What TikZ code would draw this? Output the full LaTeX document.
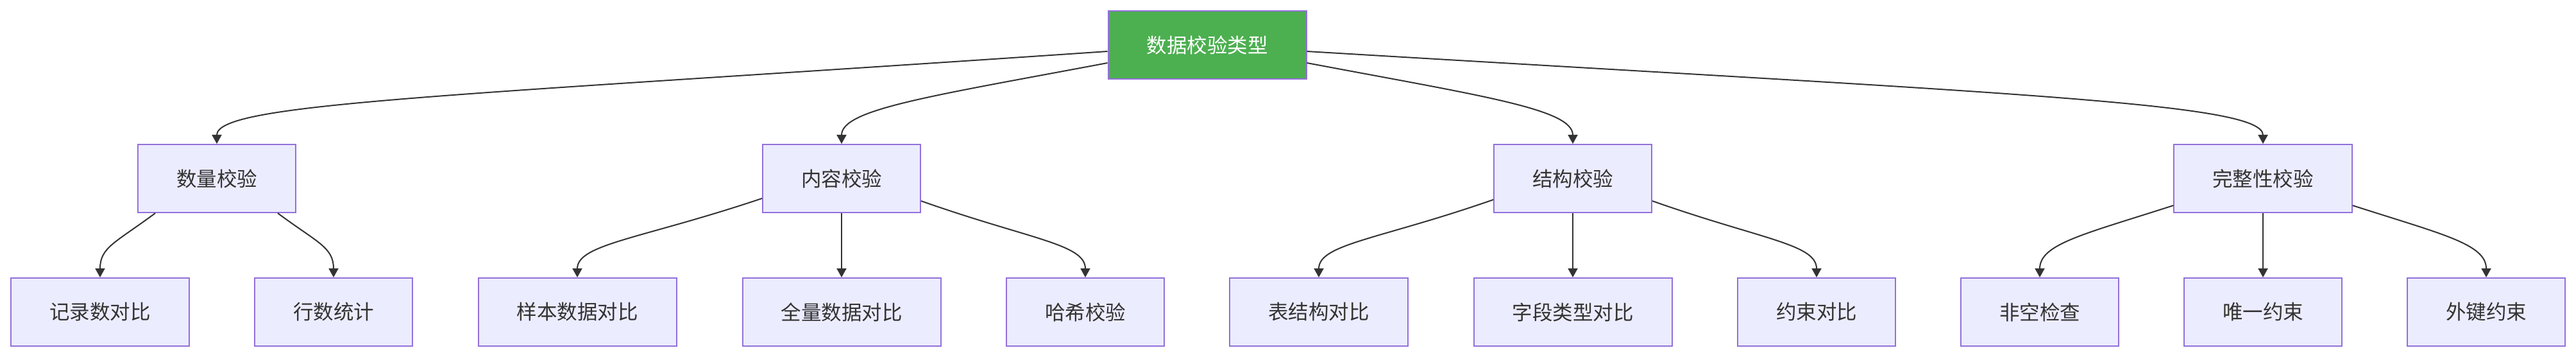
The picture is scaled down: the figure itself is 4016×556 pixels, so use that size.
\documentclass[tikz,border=0pt]{standalone}
\usepackage{fontspec}
\usepackage{tikz}
\usetikzlibrary{arrows.meta,positioning}
\newfontfamily\cjk{Noto Sans CJK SC}
\definecolor{ink}    {HTML}{333333}
\definecolor{lilac}  {HTML}{9370DB}
\definecolor{boxfill}{HTML}{ECECFF}
\definecolor{grass}  {HTML}{4CAF50}
\tikzset{
  % --- nodes
  box/.style     = {draw=lilac, fill=boxfill, line width=2pt, text=ink,
                    inner xsep=60pt, inner ysep=0pt, minimum height=106pt,
                    font=\cjk\fontsize{31.5}{38}\selectfont},
  rootbox/.style = {box, fill=grass, text=white},
  % --- edges
  e/.style       = {-{Triangle[length=14pt,width=15pt]}, line width=2pt, draw=ink},
}

\begin{document}
\begin{tikzpicture}[x=1pt,y=-1pt]
  \useasboundingbox (0,0) rectangle (4016,556);
  % root
  \node[rootbox] (root) at (1882,70) {数据校验类型};
  % level 1
  \node[box] (qty)  at (338,278)  {数量校验};
  \node[box] (cont) at (1312,278) {内容校验};
  \node[box] (strc) at (2452,278) {结构校验};
  \node[box] (intg) at (3528,278) {完整性校验};
  % level 2
  \node[box] (rec)   at (156,486)  {记录数对比};
  \node[box] (rows)  at (520,486)  {行数统计};
  \node[box] (samp)  at (900,486)  {样本数据对比};
  \node[box] (full)  at (1312,486) {全量数据对比};
  \node[box] (hash)  at (1692,486) {哈希校验};
  \node[box] (tbl)   at (2056,486) {表结构对比};
  \node[box] (ftype) at (2452,486) {字段类型对比};
  \node[box] (cons)  at (2832,486) {约束对比};
  \node[box] (notnull) at (3180,486) {非空检查};
  \node[box] (uniq)  at (3528,486) {唯一约束};
  \node[box] (fkey)  at (3876,486) {外键约束};
  % root -> level 1
  \draw[e] ([yshift=-10pt]root.west) .. controls +(-1026,70) and +(0,-64) .. (qty.north);
  \draw[e] ([yshift=-28pt]root.west) .. controls +(-276,52) and +(0,-54) .. (cont.north);
  \draw[e] ([yshift=-28pt]root.east) .. controls +(276,52) and +(0,-54) .. (strc.north);
  \draw[e] ([yshift=-10pt]root.east) .. controls +(1102,66) and +(0,-64) .. (intg.north);
  % level 1 -> level 2
  \draw[e] ([xshift=-96pt]qty.south) .. controls +(-62,46) and +(0,-47) .. (rec.north);
  \draw[e] ([xshift=95pt]qty.south) .. controls +(62,46) and +(0,-47) .. (rows.north);
  \draw[e] ([yshift=-31pt]cont.west) .. controls +(-188,63) and +(0,-52) .. (samp.north);
  \draw[e] (cont) -- (full);
  \draw[e] ([yshift=-35pt]cont.east) .. controls +(170,60) and +(0,-52) .. (hash.north);
  \draw[e] ([yshift=-33pt]strc.west) .. controls +(-178,62) and +(0,-52) .. (tbl.north);
  \draw[e] (strc) -- (ftype);
  \draw[e] ([yshift=-35pt]strc.east) .. controls +(170,60) and +(0,-52) .. (cons.north);
  \draw[e] ([yshift=-42pt]intg.west) .. controls +(-140,45) and +(0,-52) .. (notnull.north);
  \draw[e] (intg) -- (uniq);
  \draw[e] ([yshift=-42pt]intg.east) .. controls +(140,45) and +(0,-52) .. (fkey.north);
\end{tikzpicture}
\end{document}
